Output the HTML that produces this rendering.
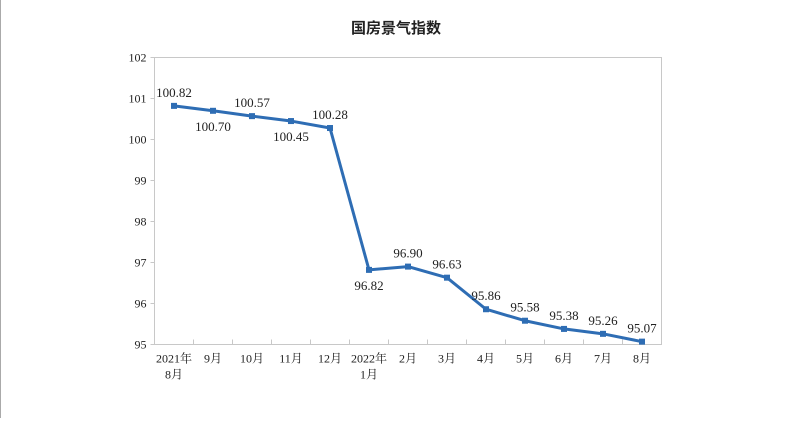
<!DOCTYPE html>
<html><head><meta charset="utf-8"><style>
body{margin:0;background:#fff;}
svg text{font-family:"Liberation Serif","Noto Serif CJK SC",serif;}
</style></head><body>
<svg id="chart" width="792" height="418" xmlns="http://www.w3.org/2000/svg">
<rect x="0" y="0" width="1" height="418" fill="#aaa"/>
<text x="396" y="33" text-anchor="middle" font-size="15" font-weight="bold" fill="#222" style="font-family:'Noto Sans CJK SC',sans-serif">国房景气指数</text>
<rect x="154.5" y="57.5" width="507" height="287" fill="none" stroke="#c8c8c8"/>
<g id="yaxis"></g>
<g id="xaxis"></g>
<g id="series"></g>
</svg>
<script>
const categories=["2021年|8月","9月","10月","11月","12月","2022年|1月","2月","3月","4月","5月","6月","7月","8月"];
const values=[100.82,100.70,100.57,100.45,100.28,96.82,96.90,96.63,95.86,95.58,95.38,95.26,95.07];
const labelBelow=[false,true,false,true,false,true,false,false,false,false,false,false,false];
const yTicks=[95,96,97,98,99,100,101,102];
const NS="http://www.w3.org/2000/svg";
const L=154.5,R=661.5,T=57.5,B=344.5,yMin=95,yMax=102;
const band=(R-L)/categories.length;
const x=i=>L+band*(i+0.5);
const y=v=>B-(v-yMin)/(yMax-yMin)*(B-T);
function mk(tag,attrs,parent){const e=document.createElementNS(NS,tag);for(const k in attrs)e.setAttribute(k,attrs[k]);parent.appendChild(e);return e;}
const ya=document.getElementById('yaxis'),xa=document.getElementById('xaxis'),se=document.getElementById('series');
yTicks.forEach(v=>{
 const t=mk('line',{x1:L-4,x2:L,y1:y(v),y2:y(v),stroke:'#c8c8c8'},ya);
 
 
 const tx=mk('text',{x:L-8,y:y(v)+4,'text-anchor':'end','font-size':12,fill:'#222'},ya);
 tx.textContent=v;
 
 
});
categories.forEach((c,i)=>{
 if(i>0){const t=mk('line',{x1:L+band*i,x2:L+band*i,y1:B-5,y2:B,stroke:'#c8c8c8'},xa);
 
 }
 c.split('|').forEach((s,j)=>{
  const tx=mk('text',{x:x(i),y:B+18+j*16,'text-anchor':'middle','font-size':12,fill:'#222'},xa);
  tx.textContent=s;
  
  
 });
});
const pl=mk('polyline',{points:values.map((v,i)=>x(i)+','+y(v)).join(' '),fill:'none',stroke:'#2e6db4','stroke-width':3,'stroke-linejoin':'round'},se);


values.forEach((v,i)=>{
 const m=mk('rect',{x:x(i)-3,y:y(v)-3,width:6,height:6,fill:'#2e6db4'},se);
 
 
 const tx=mk('text',{x:x(i),y:labelBelow[i]?y(v)+20:y(v)-9,'text-anchor':'middle','font-size':13,fill:'#222'},se);
 tx.textContent=v.toFixed(2);
 
 
});
</script>
</body></html>
